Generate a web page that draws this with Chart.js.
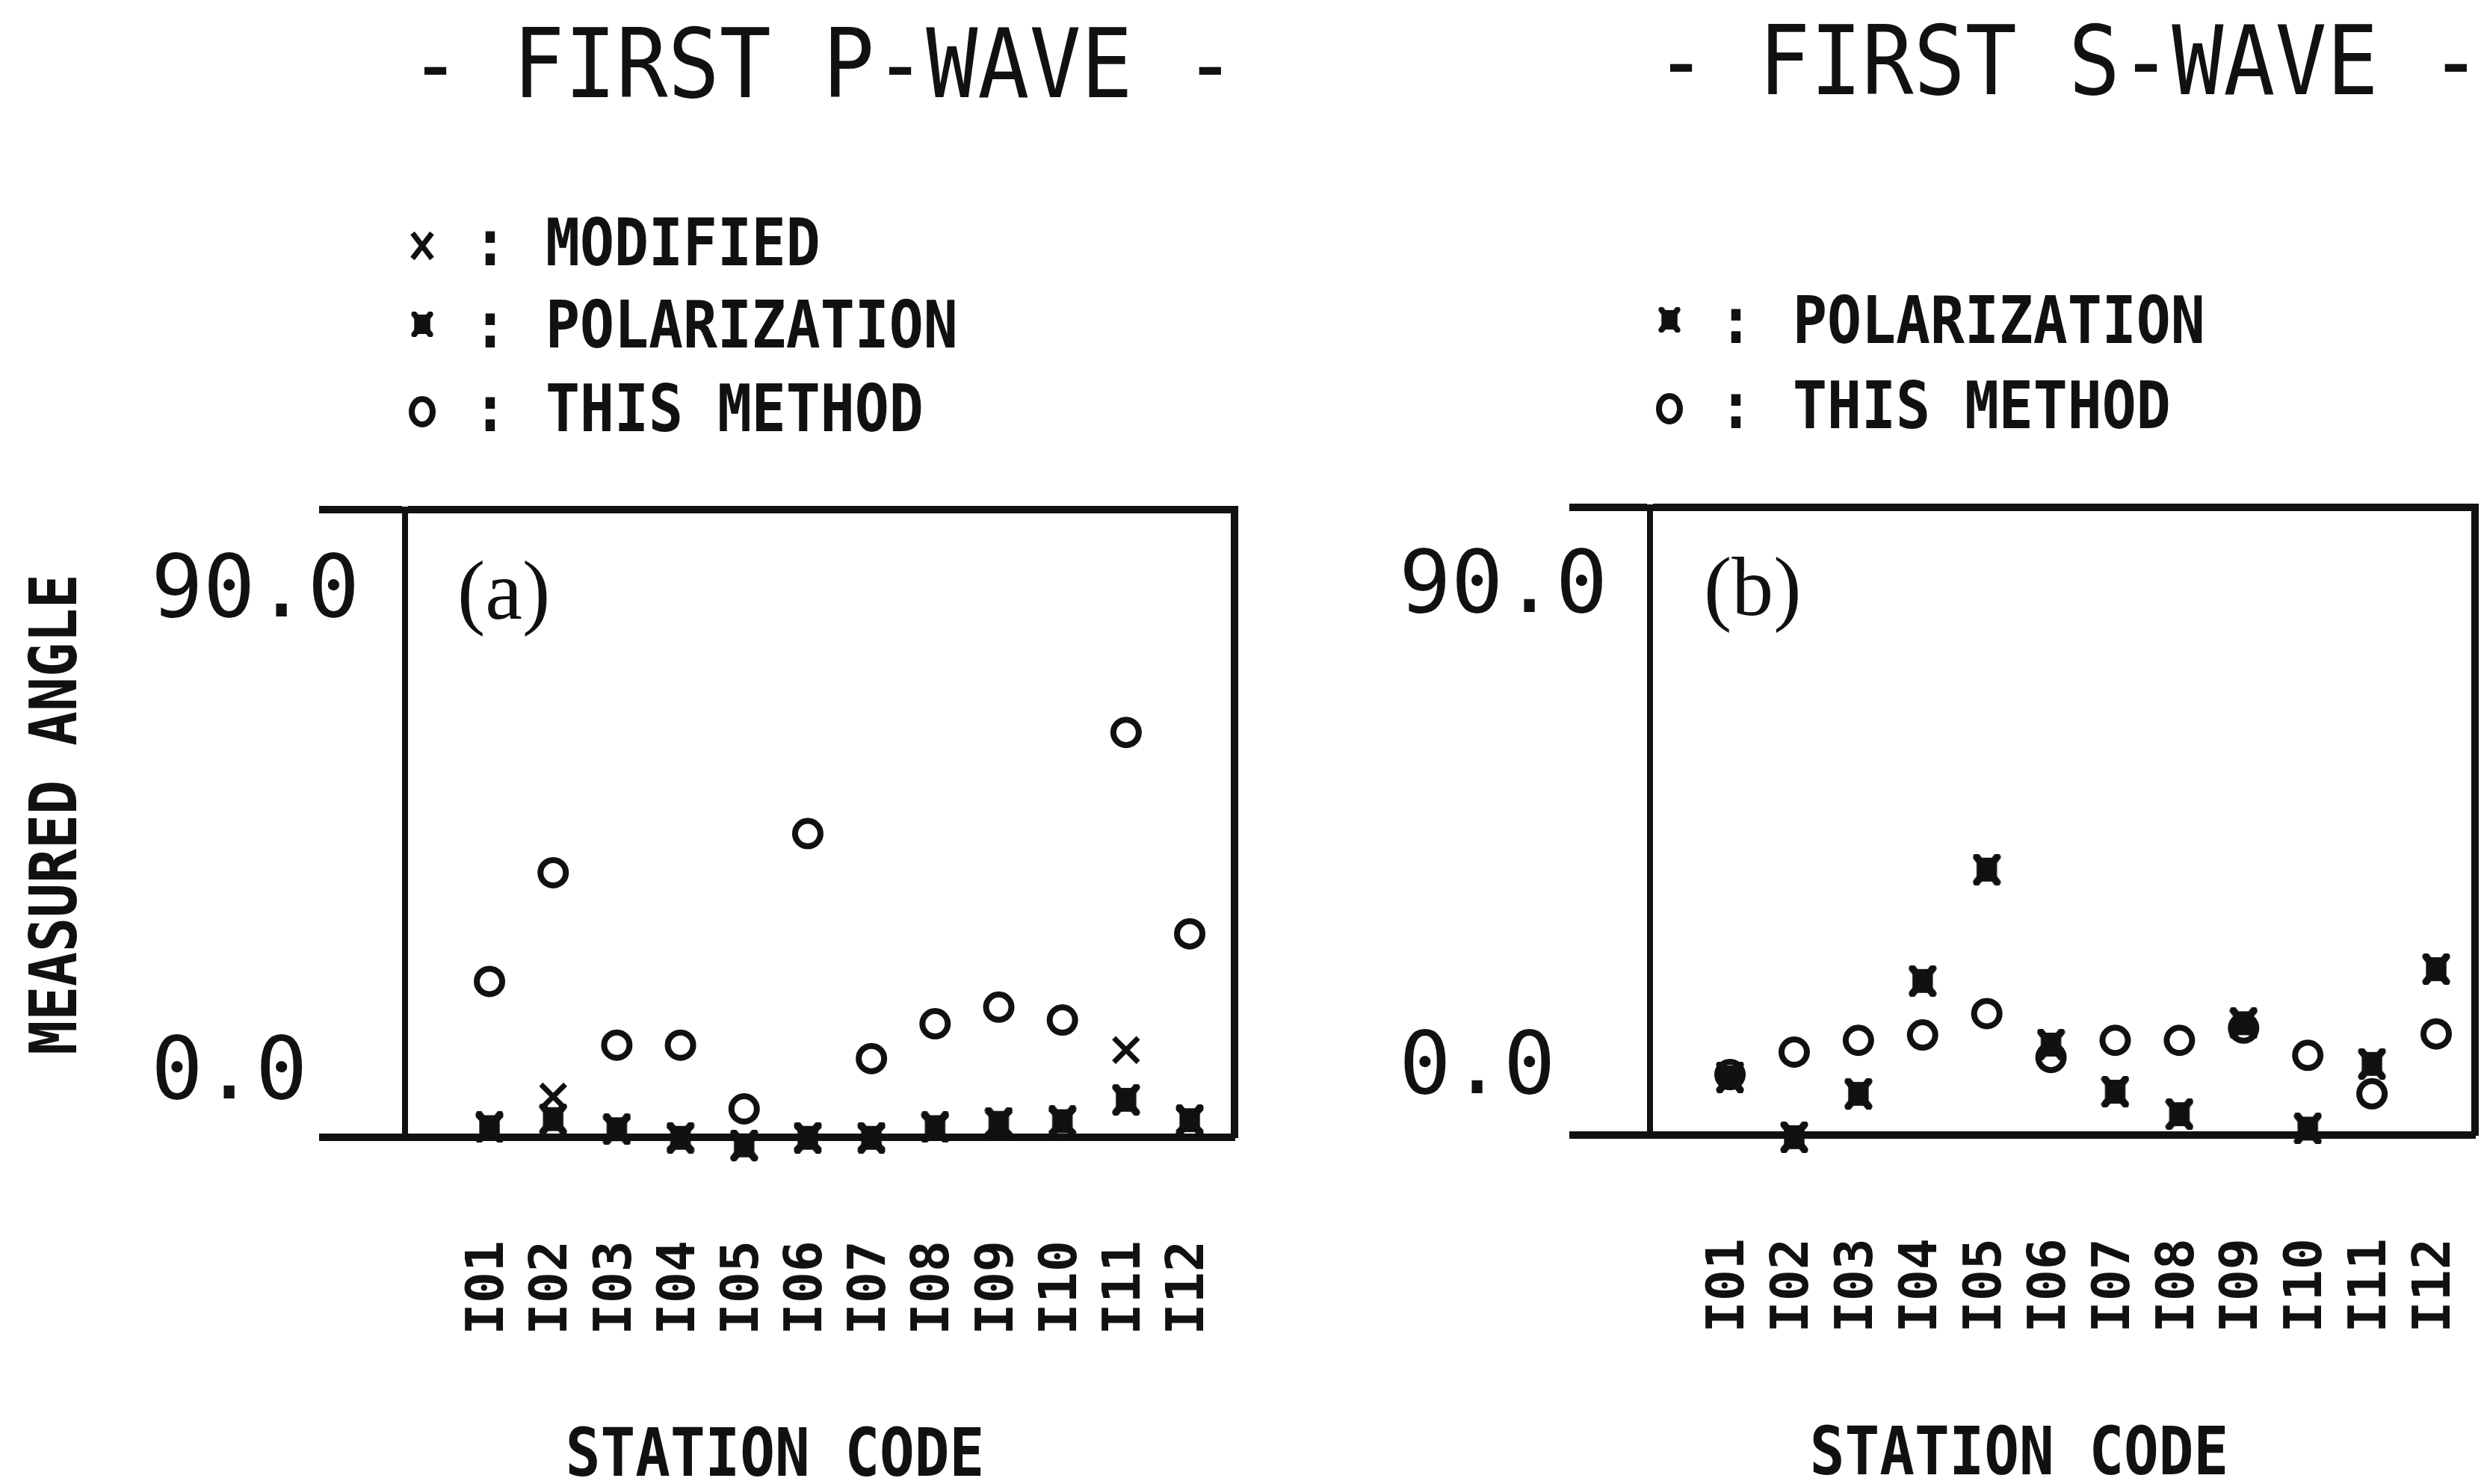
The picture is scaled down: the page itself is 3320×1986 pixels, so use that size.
<!DOCTYPE html>
<html>
<head>
<meta charset="utf-8">
<script src="https://cdn.jsdelivr.net/npm/chart.js@4.4.1/dist/chart.umd.min.js"></script>
<style>
  html, body { margin: 0; padding: 0; background: #fff; }
  #wrap { position: relative; width: 3320px; height: 1986px; overflow: hidden; background: #fff; }
  canvas { position: absolute; top: 0; }
  #ca { left: 0; }
  #cb { left: 1660px; }
</style>
</head>
<body>
<div id="wrap">
  <canvas id="ca" width="1660" height="1986"></canvas>
  <canvas id="cb" width="1660" height="1986"></canvas>
</div>
<script>
// ---------------- DATA ----------------
const stations = ['I01','I02','I03','I04','I05','I06','I07','I08','I09','I10','I11','I12'];
const stationIndex = [1,2,3,4,5,6,7,8,9,10,11,12];
const yTickValues = [0, 90];
const yTickLabels = ['0.0', '90.0'];

// Panel (a) first P-wave, measured angle (degrees)
const pThisMethod   = [16.0, 36.3, 4.1, 4.1, -7.8, 43.6, 1.6, 8.1, 11.2, 8.8, 62.5, 24.9];
const pPolarization = [-11.2, -9.7, -11.6, -13.2, -14.6, -13.2, -13.2, -11.2, -10.4, -10.1, -6.1, -9.9];
const pModified     = [-11.2, -5.5, -11.6, -13.2, -15.1, -13.2, -13.2, -11.2, -10.4, -10.1, 3.2, -9.9];

// Panel (b) first S-wave
const sThisMethod   = [-2.4, 1.8, 4.0, 5.0, 9.0, 0.8, 4.0, 4.0, 6.3, 1.2, -6.0, 5.2];
const sPolarization = [-2.9, -14.1, -6.0, 15.1, 35.9, 3.2, -5.6, -9.8, 7.2, -12.5, -0.4, 17.3];

// Texts
const titleA = '- FIRST P-WAVE -';
const titleB = '- FIRST S-WAVE -';
const labelModified = 'MODIFIED';
const labelPolarization = 'POLARIZATION';
const labelThisMethod = 'THIS METHOD';
const yTitle = 'MEASURED ANGLE';
const xTitle = 'STATION CODE';
const panelTagA = '(a)';
const panelTagB = '(b)';

// ---------------- STYLE ----------------
const INK = '#111';
const MONO = '"DejaVu Sans Mono", "Liberation Mono", monospace';

function makeStar(w, h) {
  const c = document.createElement('canvas');
  c.width = w; c.height = h;
  const g = c.getContext('2d');
  g.fillStyle = INK; g.strokeStyle = INK;
  g.lineWidth = w * 0.26; g.lineCap = 'round';
  g.beginPath();
  g.moveTo(w * 0.14, h * 0.1); g.lineTo(w * 0.86, h * 0.9);
  g.moveTo(w * 0.86, h * 0.1); g.lineTo(w * 0.14, h * 0.9);
  g.stroke();
  g.fillRect(w * 0.14, h * 0.2, w * 0.72, h * 0.6);
  g.fillRect(w * 0.3, h * 0.12, w * 0.4, h * 0.76);
  return c;
}
const starImg = makeStar(38, 42);

const circleStyle = { pointStyle: 'circle', pointRadius: 17, pointBorderWidth: 8, pointBorderColor: INK, pointBackgroundColor: 'rgba(0,0,0,0)' };
const crossStyle  = { pointStyle: 'crossRot', pointRadius: 23, pointBorderWidth: 7, pointBorderColor: INK, pointBackgroundColor: INK };
const starStyle   = { pointStyle: starImg, pointRadius: 20, pointBorderWidth: 0, pointBorderColor: INK, pointBackgroundColor: INK };

function series(label, values, style) {
  return Object.assign({
    label: label,
    data: values.map((v, i) => ({ x: stationIndex[i], y: v })),
    showLine: false,
    clip: false
  }, style);
}

function drawText(ctx, text, x, yc, o) {
  const size = o.cap / 0.729;
  ctx.save();
  ctx.font = (o.weight || 'normal') + ' ' + size + 'px ' + MONO;
  ctx.textBaseline = 'alphabetic';
  ctx.textAlign = o.align || 'left';
  ctx.translate(x, yc);
  if (o.rotate) ctx.rotate(-Math.PI / 2);
  ctx.scale(o.sx || 1, 1);
  ctx.fillText(text, 0, o.cap / 2);
  ctx.restore();
}

function drawMarker(ctx, kind, x, y) {
  ctx.save();
  ctx.strokeStyle = INK; ctx.fillStyle = INK;
  if (kind === 'x') {
    ctx.lineWidth = 7;
    ctx.beginPath();
    ctx.moveTo(x - 13, y - 17); ctx.lineTo(x + 13, y + 17);
    ctx.moveTo(x + 13, y - 17); ctx.lineTo(x - 13, y + 17);
    ctx.stroke();
  } else if (kind === 'o') {
    ctx.lineWidth = 8;
    ctx.beginPath(); ctx.ellipse(x, y, 14, 17, 0, 0, Math.PI * 2); ctx.stroke();
  } else {
    ctx.drawImage(starImg, x - 15, y - 17, 30, 34);
  }
  ctx.restore();
}

function makeAnnot(a) {
  return {
    id: 'annot',
    afterDraw(chart) {
      const ctx = chart.ctx;
      ctx.save();
      ctx.fillStyle = INK;
      drawText(ctx, a.title, a.titleX, a.titleY, { cap: 93, sx: 0.9, align: 'center' });
      a.legend.forEach(r => {
        drawMarker(ctx, r.kind, a.legMarkX, r.y + (r.kind === 'star' ? 1 : 6));
        drawText(ctx, ':', a.legColonX, r.y, { cap: 64, sx: 0.87, weight: 'bold', align: 'center' });
        drawText(ctx, r.text, a.legTextX, r.y, { cap: 64, sx: 0.87, weight: 'bold', align: 'left' });
      });
      ctx.font = '112px "Liberation Serif", "Times New Roman", serif';
      ctx.textAlign = 'left'; ctx.textBaseline = 'alphabetic';
      ctx.fillText(a.tag, a.tagX, a.tagY + 28);
      if (a.yTitle) drawText(ctx, a.yTitle, a.yTitleX, a.yTitleY, { cap: 64, sx: 0.87, weight: 'bold', align: 'center', rotate: true });
      drawText(ctx, xTitle, a.xTitleX, a.xTitleY, { cap: 65, sx: 0.87, weight: 'bold', align: 'center' });
      ctx.restore();
    }
  };
}

function makeChart(canvas, c) {
  return new Chart(canvas, {
    type: 'scatter',
    data: { datasets: c.datasets },
    options: {
      responsive: false,
      animation: false,
      devicePixelRatio: 1,
      layout: { autoPadding: false, padding: { left: c.padLeft, top: c.padTop, right: c.padRight, bottom: 0 } },
      plugins: { legend: { display: false }, tooltip: { enabled: false } },
      scales: {
        x: {
          type: 'linear', position: 'bottom', min: c.xMin, max: c.xMax,
          afterBuildTicks: s => { s.ticks = stationIndex.map(v => ({ value: v })); },
          afterFit: s => { s.height = 1986 - c.bottom; s.paddingLeft = 0; s.paddingRight = 0; },
          grid: { display: false, drawTicks: false },
          border: { display: true, color: INK, width: 10 },
          ticks: {
            autoSkip: false, minRotation: 90, maxRotation: 90, padding: 138, color: INK,
            font: { family: MONO, size: 70, weight: 'bold' },
            callback: v => { const i = stationIndex.indexOf(v); return i >= 0 ? stations[i] : ''; }
          }
        },
        y: {
          type: 'linear', position: 'left', min: c.yMin, max: c.yMax,
          afterBuildTicks: s => { s.ticks = [{ value: c.yMin }].concat(yTickValues.map(v => ({ value: v })), [{ value: c.yMax }]); },
          afterFit: s => { s.width = c.yAxisWidth; s.paddingTop = 0; s.paddingBottom = 0; },
          grid: {
            display: true, drawOnChartArea: true, drawTicks: true, tickLength: c.tickLen, lineWidth: 10,
            color: ctx => (ctx.tick && (ctx.tick.value === c.yMin || ctx.tick.value === c.yMax)) ? INK : 'rgba(0,0,0,0)'
          },
          border: { display: true, color: INK, width: 8 },
          ticks: {
            crossAlign: 'far', color: INK, labelOffset: 12,
            font: { family: MONO, size: 116 },
            callback: v => { const i = yTickValues.indexOf(v); return i >= 0 ? yTickLabels[i] : ''; }
          }
        },
        y2: {
          type: 'linear', position: 'right', display: true,
          afterFit: s => { s.width = 0; s.paddingTop = 0; s.paddingBottom = 0; },
          grid: { display: false, drawTicks: false },
          ticks: { display: false },
          border: { display: true, color: INK, width: 10 }
        }
      }
    },
    plugins: [makeAnnot(c.annot)]
  });
}

makeChart(document.getElementById('ca'), {
  datasets: [
    series('POLARIZATION', pPolarization, starStyle),
    series('MODIFIED', pModified, crossStyle),
    series('THIS METHOD', pThisMethod, circleStyle)
  ],
  padLeft: 202, padTop: 682, padRight: 8, bottom: 1522,
  yAxisWidth: 340, tickLen: 115,
  yMin: -13.1, yMax: 104.1, xMin: -0.327, xMax: 12.704,
  annot: {
    title: titleA, titleX: 1101, titleY: 83,
    legMarkX: 565, legColonX: 656, legTextX: 730,
    legend: [
      { kind: 'x', text: labelModified, y: 323 },
      { kind: 'star', text: labelPolarization, y: 433 },
      { kind: 'o', text: labelThisMethod, y: 545 }
    ],
    tag: panelTagA, tagX: 612, tagY: 800,
    yTitle: yTitle, yTitleX: 70, yTitleY: 1090,
    xTitleX: 1037, xTitleY: 1942
  }
});

makeChart(document.getElementById('cb'), {
  datasets: [
    series('POLARIZATION', sPolarization, starStyle),
    series('THIS METHOD', sThisMethod, circleStyle)
  ],
  padLeft: 212, padTop: 679, padRight: 8, bottom: 1519,
  yAxisWidth: 336, tickLen: 108,
  yMin: -13.7, yMax: 103.6, xMin: -0.246, xMax: 12.605,
  annot: {
    title: titleB, titleX: 1108, titleY: 79,
    legMarkX: 574, legColonX: 663, legTextX: 739,
    legend: [
      { kind: 'star', text: labelPolarization, y: 427 },
      { kind: 'o', text: labelThisMethod, y: 541 }
    ],
    tag: panelTagB, tagX: 620, tagY: 795,
    yTitle: null,
    xTitleX: 1042, xTitleY: 1940
  }
});
</script>
</body>
</html>
